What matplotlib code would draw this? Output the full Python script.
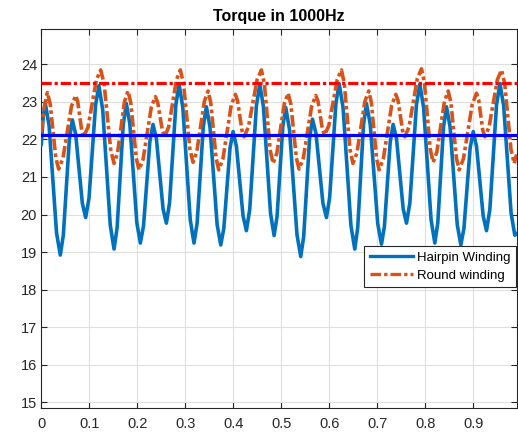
import matplotlib
matplotlib.use("Agg")
import matplotlib.pyplot as plt
from matplotlib.lines import Line2D

plt.rcParams['font.family'] = ['Liberation Sans', 'DejaVu Sans']

# Hairpin winding torque (extrema plus shoulder points)
hair_x = [0.0, 0.004, 0.0084, 0.0162, 0.0318, 0.0396, 0.0459, 0.0584, 0.0647,
          0.0716, 0.0855, 0.0924, 0.0993, 0.1131, 0.1200, 0.1279, 0.1436, 0.1515,
          0.1579, 0.1706, 0.177, 0.1843, 0.1990, 0.2063, 0.2129, 0.2261, 0.2327,
          0.2397, 0.2536, 0.2605, 0.2671, 0.2803, 0.2869, 0.2947, 0.3102, 0.318,
          0.3245, 0.3374, 0.3438, 0.3513, 0.3662, 0.3737, 0.3801, 0.3930, 0.3994,
          0.4063, 0.4202, 0.4271, 0.4341, 0.4480, 0.455, 0.4625, 0.4774, 0.4848,
          0.4909, 0.5030, 0.509, 0.5168, 0.5325, 0.5403, 0.5464, 0.5586, 0.5647,
          0.5720, 0.5865, 0.5938, 0.6004, 0.6136, 0.6202, 0.6284, 0.6447, 0.6528,
          0.6589, 0.6710, 0.677, 0.6849, 0.7006, 0.7084, 0.7145, 0.7266, 0.7327,
          0.7397, 0.7536, 0.7605, 0.7675, 0.7813, 0.7883, 0.7961, 0.8117, 0.8195,
          0.8256, 0.8377, 0.8438, 0.8513, 0.8662, 0.8737, 0.8801, 0.8930, 0.8994,
          0.9063, 0.9202, 0.9271, 0.9341, 0.9480, 0.955, 0.9628, 0.9783, 0.986, 0.99]
hair_y = [21.85, 22.6, 22.96, 22.37, 19.51, 18.92, 19.45, 21.99, 22.52,
          22.14, 20.30, 19.92, 20.43, 22.92, 23.43, 22.79, 19.72, 19.08,
          19.65, 22.39, 22.96, 22.42, 19.78, 19.24, 19.70, 21.94, 22.40,
          22.02, 20.15, 19.77, 20.31, 22.93, 23.47, 22.85, 19.86, 19.24,
          19.77, 22.34, 22.87, 22.33, 19.73, 19.19, 19.63, 21.77, 22.21,
          21.82, 19.96, 19.57, 20.14, 22.90, 23.47, 22.88, 20.03, 19.44,
          19.94, 22.35, 22.85, 22.27, 19.46, 18.88, 19.41, 22.01, 22.54,
          22.16, 20.30, 19.92, 20.44, 22.97, 23.49, 22.85, 19.72, 19.08,
          19.65, 22.39, 22.96, 22.41, 19.76, 19.21, 19.68, 21.93, 22.40,
          22.02, 20.15, 19.77, 20.31, 22.93, 23.47, 22.85, 19.86, 19.24,
          19.77, 22.34, 22.87, 22.33, 19.73, 19.19, 19.63, 21.77, 22.21,
          21.82, 19.96, 19.57, 20.14, 22.92, 23.49, 22.90, 20.04, 19.45, 19.5]

# Round winding torque
round_x = [0.0, 0.006, 0.0126, 0.0185, 0.0303, 0.0362, 0.0451, 0.0628, 0.0716,
           0.0758, 0.0843, 0.0885, 0.0973, 0.1149, 0.1237, 0.1307, 0.1446, 0.1515,
           0.1588, 0.1733, 0.1806, 0.1863, 0.1978, 0.2035, 0.2120, 0.2291, 0.2376,
           0.2425, 0.2522, 0.257, 0.2652, 0.2815, 0.2896, 0.2962, 0.3094, 0.316,
           0.3238, 0.3395, 0.3473, 0.3529, 0.3640, 0.3695, 0.3782, 0.3955, 0.4042,
           0.4087, 0.4178, 0.4223, 0.4313, 0.4494, 0.4584, 0.4645, 0.4766, 0.4826,
           0.4905, 0.5062, 0.514, 0.5197, 0.5312, 0.5369, 0.5456, 0.5629, 0.5716,
           0.5762, 0.5854, 0.590, 0.5988, 0.6163, 0.625, 0.631, 0.643, 0.649,
           0.6573, 0.6738, 0.682, 0.6874, 0.6981, 0.7035, 0.7122, 0.7296, 0.7383,
           0.7430, 0.7523, 0.757, 0.7657, 0.7830, 0.7917, 0.7978, 0.8099, 0.816,
           0.8238, 0.8395, 0.8473, 0.8530, 0.8645, 0.8702, 0.8792, 0.8973, 0.9063,
           0.9107, 0.9194, 0.9237, 0.9324, 0.9497, 0.9584, 0.9650, 0.9782, 0.9848, 0.99]
round_y = [22.2, 22.85, 23.25, 22.95, 21.51, 21.21, 21.50, 22.88, 23.17,
           23.01, 22.23, 22.07, 22.33, 23.59, 23.85, 23.49, 21.72, 21.36,
           21.64, 23.01, 23.29, 22.98, 21.50, 21.19, 21.47, 22.86, 23.14,
           22.98, 22.23, 22.07, 22.33, 23.59, 23.85, 23.49, 21.75, 21.39,
           21.67, 23.01, 23.29, 22.98, 21.50, 21.19, 21.48, 22.91, 23.20,
           23.03, 22.24, 22.07, 22.33, 23.59, 23.85, 23.49, 21.72, 21.36,
           21.63, 22.96, 23.23, 22.94, 21.50, 21.21, 21.50, 22.88, 23.17,
           23.02, 22.27, 22.12, 22.37, 23.60, 23.85, 23.49, 21.72, 21.36,
           21.64, 23.01, 23.29, 22.98, 21.50, 21.19, 21.48, 22.91, 23.20,
           23.03, 22.24, 22.07, 22.33, 23.62, 23.88, 23.52, 21.75, 21.39,
           21.67, 23.01, 23.29, 22.98, 21.50, 21.19, 21.49, 22.93, 23.23,
           23.06, 22.24, 22.07, 22.33, 23.59, 23.85, 23.49, 21.72, 21.36, 21.6]

hair_mean = 22.13
round_max = 23.5

x_ticks = [0, 0.1, 0.2, 0.3, 0.4, 0.5, 0.6, 0.7, 0.8, 0.9]
x_labels = ['0', '0.1', '0.2', '0.3', '0.4', '0.5', '0.6', '0.7', '0.8', '0.9']
y_ticks = [15, 16, 17, 18, 19, 20, 21, 22, 23, 24]

fig = plt.figure(figsize=(5.18, 4.32), dpi=100)
ax = fig.add_axes([0.0797, 0.0562, 0.9178, 0.8766])

blue = '#0072BD'
orange = '#D95319'
axc = '#262626'
dashdot = (0, (3.2, 0.9, 1.0, 0.9))

ax.plot(hair_x, hair_y, color=blue, lw=2.6, solid_joinstyle='round',
        solid_capstyle='round', label='Hairpin Winding', zorder=3)
ax.plot(round_x, round_y, color=orange, lw=2.6, linestyle=dashdot,
        dash_joinstyle='round', label='Round winding', zorder=4)
ax.axhline(hair_mean, color='#0000FF', lw=2.3, zorder=5)
ax.axhline(round_max, color='#FF0000', lw=2.3, linestyle=dashdot, zorder=5)

ax.set_xlim(0, 0.99)
ax.set_ylim(14.855, 24.94)
ax.set_xticks(x_ticks)
ax.set_xticklabels(x_labels)
ax.set_yticks(y_ticks)
ax.grid(True, color='#DFDFDF', lw=0.8)
ax.set_axisbelow(True)
ax.tick_params(direction='in', length=4, width=0.8, colors=axc, labelsize=10.5,
               top=True, right=True, labelcolor=axc)
ax.tick_params(axis='x', pad=7)
ax.tick_params(axis='y', pad=3)
for s in ax.spines.values():
    s.set_color(axc)
    s.set_linewidth(0.8)

ax.set_title('Torque in 1000Hz', fontsize=11.5, fontweight='bold', color='black', pad=6)

handles = [Line2D([], [], color=blue, lw=2.4),
           Line2D([], [], color=orange, lw=2.4, linestyle=dashdot)]
leg = ax.legend(handles, ['Hairpin Winding', 'Round winding'], loc='upper right',
                bbox_to_anchor=(0.9985, 0.427), fontsize=9.5, fancybox=False,
                framealpha=1, edgecolor=axc, borderpad=0.4, handlelength=3.3,
                handletextpad=0.3, labelspacing=0.45, borderaxespad=0)
leg.get_frame().set_linewidth(0.8)
leg.set_zorder(10)

fig.savefig('out.png', dpi=100)
